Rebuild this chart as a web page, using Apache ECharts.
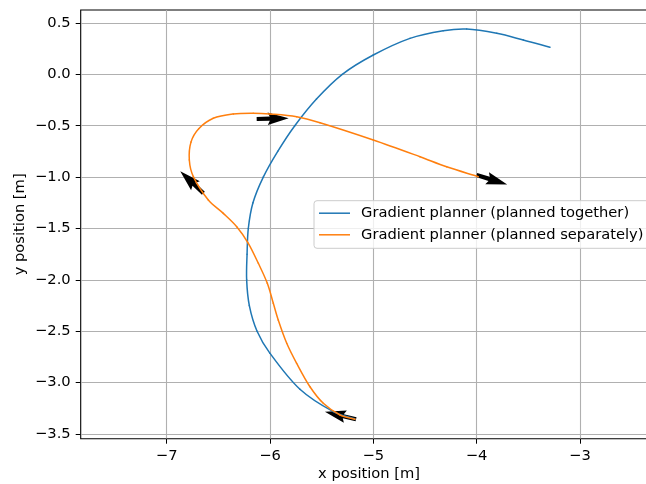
<!DOCTYPE html>
<html>
<head>
<meta charset="utf-8">
<script src="https://cdn.jsdelivr.net/npm/echarts@6/dist/echarts.min.js"></script>
<style>
  html, body { margin: 0; padding: 0; background: #fff; }
  #chart { width: 646px; height: 484px; }
</style>
</head>
<body>
<div id="chart"></div>
<script>
// Trajectories of the gradient planner, positions in metres
const seriesNames = [
  'Gradient planner (planned together)',
  'Gradient planner (planned separately)'
];
const seriesColors = ['#1f77b4', '#ff7f0e'];

const togetherX = [-5.177, -5.387, -5.710, -6.000, -6.125, -6.200, -6.226, -6.222, -6.210,
                   -6.165, -6.065, -5.925, -5.760, -5.550, -5.300, -5.000, -4.645, -4.323, -4.096,
                   -3.805, -3.548, -3.290];
const togetherY = [-3.354, -3.283, -3.065, -2.715, -2.500, -2.250, -2.000, -1.750, -1.500,
                   -1.250, -1.000, -0.750, -0.500, -0.240, 0.000, 0.188, 0.350, 0.424, 0.441,
                   0.399, 0.334, 0.263];

const separateX = [-5.177, -5.322, -5.484, -5.613, -5.742, -5.838, -5.920, -5.968, -6.026, -6.113,
                   -6.210, -6.322, -6.452, -6.597, -6.742, -6.781, -6.765, -6.690, -6.549, -6.355,
                   -6.162, -6.000, -5.742, -5.516, -5.000, -4.548, -4.290, -3.984];
const separateY = [-3.357, -3.315, -3.201, -3.040, -2.812, -2.617, -2.391, -2.228, -2.034, -1.839,
                   -1.644, -1.483, -1.353, -1.223, -0.996, -0.834, -0.660, -0.530, -0.428, -0.386,
                   -0.379, -0.386, -0.413, -0.471, -0.639, -0.802, -0.900, -0.996];

// Robot poses shown as arrows: tail position and heading (rad)
const poseX = [-5.167, -6.645, -6.129, -4.000];
const poseY = [-3.357, -1.158, -0.435, -0.980];
const poseHeading = [2.901, 2.377, 0.023, -0.300];

// Axis ticks
const xTicks = [-7, -6, -5, -4, -3];
const yTicks = [-3.5, -3.0, -2.5, -2.0, -1.5, -1.0, -0.5, 0.0, 0.5];

// View limits
const xLimits = [-7.8325, -2.2488];
const yLimits = [-3.5457, 0.6257];

const ARROW_LEN = 0.31;          // arrow length in data units
const FONT = 'DejaVu Sans';
const FS = 14.7;

function fmt(v, digits) {
  const s = Math.abs(v).toFixed(digits);
  return (v < 0 ? '\u2212' : '') + s;
}

function pairs(xs, ys) {
  return xs.map((x, i) => [x, ys[i]]);
}

// Smooth trajectory: one cubic segment per pair of consecutive samples,
// tangents from the neighbouring samples (Catmull-Rom style) in pixel space.
function trajectoryRenderer(xs, ys, color) {
  return function (params, api) {
    const i = params.dataIndex;
    const n = xs.length;
    if (i >= n - 1) return null;
    const P = k => api.coord([xs[Math.max(0, Math.min(n - 1, k))], ys[Math.max(0, Math.min(n - 1, k))]]);
    const p0 = P(i - 1), p1 = P(i), p2 = P(i + 1), p3 = P(i + 2);
    const d = (a, b) => Math.hypot(b[0] - a[0], b[1] - a[1]) || 1e-6;
    const d01 = d(p0, p1), d12 = d(p1, p2), d23 = d(p2, p3);
    const s = 1 / 3;
    const r1 = s * d12 / (d01 + d12), r2 = s * d12 / (d12 + d23);
    return {
      type: 'bezierCurve',
      shape: {
        x1: p1[0], y1: p1[1], x2: p2[0], y2: p2[1],
        cpx1: p1[0] + (p2[0] - p0[0]) * r1, cpy1: p1[1] + (p2[1] - p0[1]) * r1,
        cpx2: p2[0] - (p3[0] - p1[0]) * r2, cpy2: p2[1] - (p3[1] - p1[1]) * r2
      },
      style: { stroke: color, lineWidth: 1.5, fill: null, lineCap: 'round' }
    };
  };
}

const poses = poseX.map((x, i) => [x, poseY[i], poseHeading[i]]);

const chart = echarts.init(document.getElementById('chart'), null, { renderer: 'canvas' });

const axisCommon = {
  type: 'value',
  axisLine: { show: false, onZero: false },
  axisTick: { show: true, inside: false, length: 5, lineStyle: { color: '#000', width: 1 } },
  splitLine: { show: true, lineStyle: { color: '#b0b0b0', width: 1.1 } },
  nameLocation: 'middle',
  nameMoveOverlap: false,
  nameTextStyle: { fontFamily: FONT, fontSize: FS, color: '#000' }
};

const legendIcon = 'path://M0,0H31V1.5H0Z';

chart.setOption({
  animation: false,
  backgroundColor: '#fff',
  textStyle: { fontFamily: FONT },
  grid: {
    left: 80.7, top: 10, width: 576.8, height: 428.7,
    outerBoundsMode: 'none', containLabel: false,
    show: true, borderColor: '#000', borderWidth: 1.1, backgroundColor: 'transparent'
  },
  xAxis: Object.assign({}, axisCommon, {
    min: xLimits[0], max: xLimits[1],
    name: 'x position [m]', nameGap: 28,
    axisTick: Object.assign({}, axisCommon.axisTick, { customValues: xTicks }),
    axisLabel: {
      customValues: xTicks, margin: 10, color: '#000', fontFamily: FONT, fontSize: FS,
      formatter: v => fmt(v, 0)
    }
  }),
  yAxis: Object.assign({}, axisCommon, {
    min: yLimits[0], max: yLimits[1],
    name: 'y position [m]', nameGap: 53,
    axisTick: Object.assign({}, axisCommon.axisTick, { customValues: yTicks }),
    axisLabel: {
      customValues: yTicks, margin: 10, color: '#000', fontFamily: FONT, fontSize: FS,
      formatter: v => fmt(v, 1)
    }
  }),
  legend: {
    show: true,
    orient: 'vertical',
    left: 314, top: 200.7,
    padding: [5, 6, 6, 5],
    itemGap: 6.6,
    itemWidth: 31, itemHeight: 14,
    symbolKeepAspect: true,
    backgroundColor: 'rgba(255,255,255,0.8)',
    borderColor: '#cccccc', borderWidth: 1, borderRadius: 3,
    textStyle: { fontFamily: FONT, fontSize: FS, lineHeight: 14, color: '#000', padding: [0, 0, 0, 6] },
    data: seriesNames.map(name => ({ name: name, icon: legendIcon }))
  },
  series: [
    {
      name: 'poses',
      type: 'custom',
      z: 1,
      data: poses,
      encode: { x: 0, y: 1 },
      renderItem: function (params, api) {
        const x = api.value(0), y = api.value(1), th = api.value(2);
        const p0 = api.coord([x, y]);
        const p1 = api.coord([x + ARROW_LEN * Math.cos(th), y + ARROW_LEN * Math.sin(th)]);
        const dx = p1[0] - p0[0], dy = p1[1] - p0[1];
        const L = Math.hypot(dx, dy);
        const ux = dx / L, uy = dy / L, nx = -uy, ny = ux;
        const w = 4.2, hl = 5 * w, hal = 4.5 * w, hw = 3 * w;
        const pt = (a, b) => [p0[0] + ux * a + nx * b, p0[1] + uy * a + ny * b];
        return {
          type: 'polygon',
          shape: { points: [pt(0, -w / 2), pt(L - hal, -w / 2), pt(L - hl, -hw / 2), pt(L, 0),
                            pt(L - hl, hw / 2), pt(L - hal, w / 2), pt(0, w / 2)] },
          style: { fill: '#000' }
        };
      }
    },
    {
      name: seriesNames[0],
      type: 'custom',
      z: 3,
      data: pairs(togetherX, togetherY),
      encode: { x: 0, y: 1 },
      itemStyle: { color: seriesColors[0] },
      renderItem: trajectoryRenderer(togetherX, togetherY, seriesColors[0])
    },
    {
      name: seriesNames[1],
      type: 'custom',
      z: 4,
      data: pairs(separateX, separateY),
      encode: { x: 0, y: 1 },
      itemStyle: { color: seriesColors[1] },
      renderItem: trajectoryRenderer(separateX, separateY, seriesColors[1])
    }
  ]
});
</script>
</body>
</html>
